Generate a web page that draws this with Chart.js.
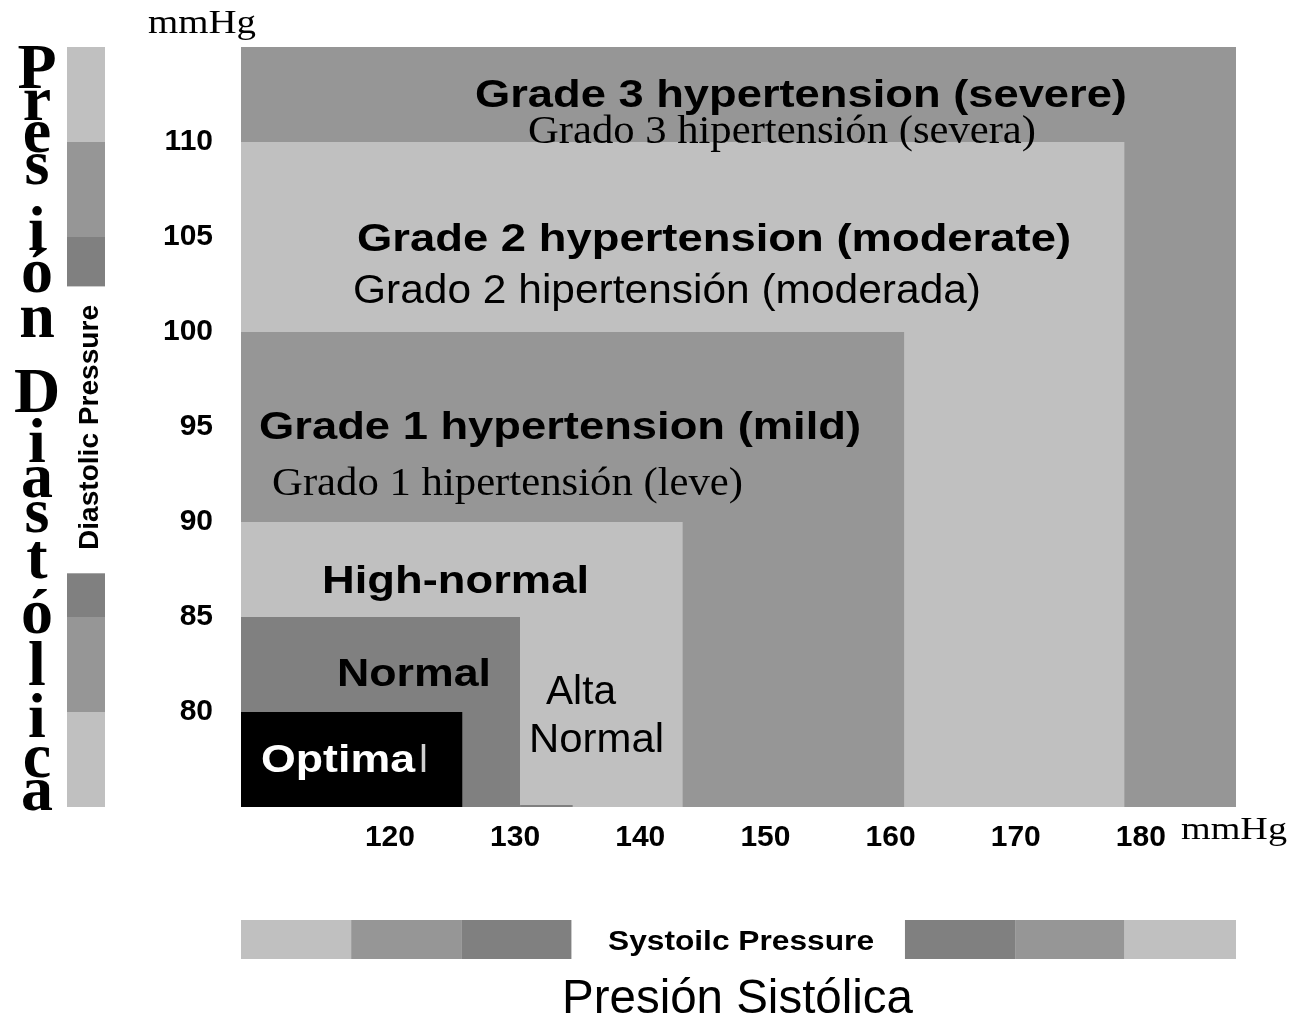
<!DOCTYPE html>
<html>
<head>
<meta charset="utf-8">
<script src="https://cdn.jsdelivr.net/npm/chart.js@4.4.1/dist/chart.umd.min.js"></script>
<style>
  html, body { margin: 0; padding: 0; background: #ffffff; }
  #wrap { width: 1293px; height: 1018px; position: relative; }
</style>
</head>
<body>
<div id="wrap"><canvas id="c"></canvas></div>
<script>
// ---------- data ----------
const zoneNames      = ['Optimal', 'Normal', 'High-normal', 'Grade 1', 'Grade 2', 'Grade 3'];
const systolicUpper  = [125.8, 130.4, 143.4, 161.1, 178.7, 187.6];   // right edge of each zone (mmHg)
const diastolicUpper = [80, 85, 90, 100, 110, 115];                  // top edge of each zone (mmHg)
const systolicRange  = [108.1, 187.6];
const diastolicRange = [75, 115];
const systolicTicks  = [120, 130, 140, 150, 160, 170, 180];
const diastolicTicks = [80, 85, 90, 95, 100, 105, 110];
const traceLine      = [130.4, 134.6];                                // small stray line at bottom edge

// ---------- styles ----------
const LIGHT = '#c0c0c0', MID = '#969696', DARK = '#808080';
const zoneColors = ['#000000', DARK, LIGHT, MID, LIGHT, MID];
const SANS = '"Liberation Sans", Arial, sans-serif';
const SERIF = '"Liberation Serif", "Times New Roman", serif';

// label layout (data coordinates: x = left edge, y = baseline; w = width in px)
const zoneLabels = [
  {t: 'Grade 3 hypertension (severe)',  x: 126.79, y: 111.84, w: 652, f: 'bold 39px ' + SANS,  c: '#000'},
  {t: 'Grado 3 hipertensión (severa)',  x: 131.03, y: 109.95, w: 508, f: '40px ' + SERIF,      c: '#000'},
  {t: 'Grade 2 hypertension (moderate)',x: 117.37, y: 104.27, w: 714, f: 'bold 39px ' + SANS,  c: '#000'},
  {t: 'Grado 2 hipertensión (moderada)',x: 117.05, y: 101.53, w: 628, f: '40px ' + SANS,       c: '#000'},
  {t: 'Grade 1 hypertension (mild)',    x: 109.54, y: 94.37,  w: 602, f: 'bold 39px ' + SANS,  c: '#000'},
  {t: 'Grado 1 hipertensión (leve)',    x: 110.58, y: 91.42,  w: 471, f: '40px ' + SERIF,      c: '#000'},
  {t: 'High-normal',                    x: 114.57, y: 86.27,  w: 267, f: 'bold 39px ' + SANS,  c: '#000'},
  {t: 'Normal',                         x: 115.77, y: 81.37,  w: 154, f: 'bold 39px ' + SANS,  c: '#000'},
  {t: 'Optima',                         x: 109.70, y: 76.84,  w: 154, f: 'bold 39px ' + SANS,  c: '#fff'},
  {t: 'Alta',                           x: 132.47, y: 80.42,  w: 70,  f: '40px ' + SANS,       c: '#000'},
  {t: 'Normal',                         x: 131.11, y: 77.90,  w: 135, f: '40px ' + SANS,       c: '#000'}
];
const diaLetters   = ['P','r','e','s','i','ó','n','D','i','a','s','t','ó','l','i','c','a'];
const diaBaselines = [88,120,152,184,250,292,337,412,462,497,532,578,633,685,737,777,810];
const leftBarSegs   = [[115,110,LIGHT],[110,105,MID],[105,102.4,DARK],[87.3,85,DARK],[85,80,MID],[80,75,LIGHT]];
const bottomBarSegs = [[108.1,116.9,LIGHT],[116.9,125.7,MID],[125.7,134.5,DARK],[161.15,169.95,DARK],[169.95,178.7,MID],[178.7,187.6,LIGHT]];

function fitText(ctx, text, x, y, w, font, color) {
  ctx.save();
  ctx.font = font;
  ctx.fillStyle = color;
  ctx.textAlign = 'left';
  ctx.textBaseline = 'alphabetic';
  const m = ctx.measureText(text).width;
  const sx = w ? w / m : 1;
  ctx.translate(x, y);
  ctx.scale(sx, 1);
  ctx.fillText(text, 0, 0);
  ctx.restore();
}

const decor = {
  id: 'decor',
  afterDatasetsDraw(chart) {
    const ctx = chart.ctx, xs = chart.scales.x, ys = chart.scales.y, ca = chart.chartArea;
    // zone labels
    zoneLabels.forEach(L => fitText(ctx, L.t, xs.getPixelForValue(L.x), ys.getPixelForValue(L.y), L.w, L.f, L.c));
    // faint trailing "l" of Optimal
    fitText(ctx, 'l', 420, ys.getPixelForValue(76.84), 7, 'bold 39px ' + SANS, '#d0d0d0');

    // left legend bar
    leftBarSegs.forEach(s => {
      const y1 = ys.getPixelForValue(s[0]), y2 = ys.getPixelForValue(s[1]);
      ctx.fillStyle = s[2];
      ctx.fillRect(67, y1, 38, y2 - y1);
    });
    // rotated "Diastolic Pressure"
    ctx.save();
    ctx.translate(98, 550);
    ctx.rotate(-Math.PI / 2);
    fitText(ctx, 'Diastolic Pressure', 0, 0, 245, 'bold 28px ' + SANS, '#000');
    ctx.restore();
    // stacked "Presión Diastólica"
    ctx.save();
    ctx.font = 'bold 64px ' + SERIF;
    ctx.fillStyle = '#000';
    ctx.textAlign = 'center';
    ctx.textBaseline = 'alphabetic';
    diaLetters.forEach((ch, i) => ctx.fillText(ch, 37, diaBaselines[i]));
    ctx.restore();

    // bottom legend bar
    bottomBarSegs.forEach(s => {
      const x1 = xs.getPixelForValue(s[0]), x2 = xs.getPixelForValue(s[1]);
      ctx.fillStyle = s[2];
      ctx.fillRect(x1, ca.bottom + 113, x2 - x1, 39);
    });
    fitText(ctx, 'Systoilc Pressure', 608, ca.bottom + 143, 266, 'bold 28px ' + SANS, '#000');
    fitText(ctx, 'Presión Sistólica', 562, ca.bottom + 206, 351, '48px ' + SANS, '#000');

    // units
    fitText(ctx, 'mmHg', 148, 33, 108, '34px ' + SERIF, '#000');
    fitText(ctx, 'mmHg', 1181, ca.bottom + 32, 106, '32px ' + SERIF, '#000');
  }
};

const datasets = zoneNames.map((name, i) => ({
  label: name,
  data: [
    {x: systolicRange[0], y: diastolicUpper[i]},
    {x: systolicUpper[i], y: diastolicUpper[i]},
    {x: systolicUpper[i], y: diastolicRange[0]}
  ],
  backgroundColor: zoneColors[i],
  borderColor: 'rgba(0,0,0,0)',
  borderWidth: 0,
  pointRadius: 0,
  tension: 0,
  fill: 'start',
  order: i + 1
}));
datasets.push({
  label: 'trace',
  data: [{x: traceLine[0], y: diastolicRange[0]}, {x: traceLine[1], y: diastolicRange[0]}],
  borderColor: DARK,
  borderWidth: 4,
  pointRadius: 0,
  fill: false,
  order: 0
});

new Chart(document.getElementById('c'), {
  type: 'line',
  data: { datasets },
  options: {
    responsive: true,
    maintainAspectRatio: false,
    animation: false,
    layout: { padding: { top: 47, right: 57, left: 0, bottom: 0 } },
    plugins: { legend: { display: false }, tooltip: { enabled: false } },
    scales: {
      x: {
        type: 'linear',
        min: systolicRange[0], max: systolicRange[1],
        grid: { display: false, drawTicks: false },
        border: { display: false },
        ticks: { color: '#000', font: { family: SANS, weight: 'bold', size: 30 }, padding: 13, maxRotation: 0, autoSkip: false },
        afterBuildTicks: s => { s.ticks = systolicTicks.map(v => ({ value: v })); },
        afterFit: s => { s.height = 211; }
      },
      y: {
        type: 'linear',
        min: diastolicRange[0], max: diastolicRange[1],
        grid: { display: false, drawTicks: false },
        border: { display: false },
        ticks: { color: '#000', font: { family: SANS, weight: 'bold', size: 30 }, padding: 28, autoSkip: false },
        afterBuildTicks: s => { s.ticks = diastolicTicks.map(v => ({ value: v })); },
        afterFit: s => { s.width = 241; }
      }
    }
  },
  plugins: [decor]
});
</script>
</body>
</html>
